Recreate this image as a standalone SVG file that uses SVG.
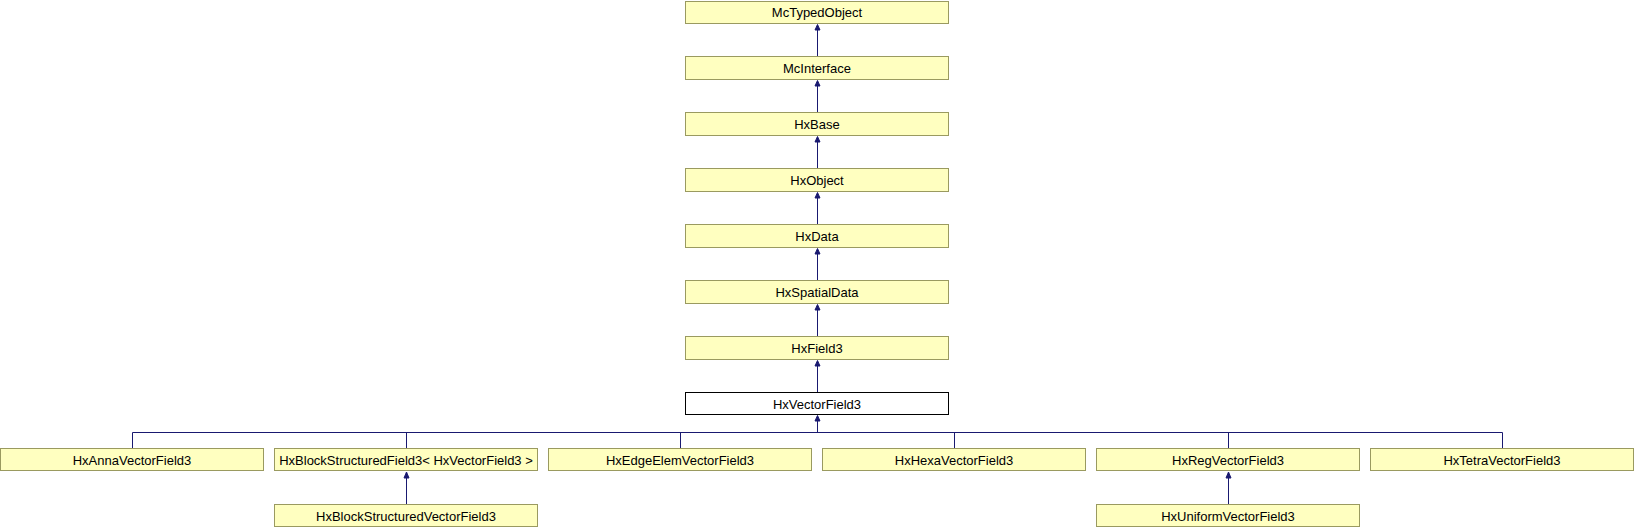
<svg xmlns="http://www.w3.org/2000/svg" width="1634" height="528" viewBox="0 0 1634 528">
<style>
.n rect{fill:#ffffc0;stroke:#9a9a60;stroke-width:1}
.n.h rect{fill:#ffffff;stroke:#000000}
.n text{font-family:"Liberation Sans",Arial,sans-serif;font-size:13px;fill:#000;text-anchor:middle}
.e line{stroke:#191970;stroke-width:1}
.e polygon{fill:#191970;stroke:#191970;stroke-width:1}
</style>
<rect width="1634" height="528" fill="#ffffff"/>
<g id="McTypedObject" class="n"><rect x="685.5" y="1.5" width="263" height="22"/><text x="817" y="17">McTypedObject</text></g>
<g id="McInterface" class="n"><rect x="685.5" y="56.5" width="263" height="23"/><text x="817" y="73">McInterface</text></g>
<g id="HxBase" class="n"><rect x="685.5" y="112.5" width="263" height="23"/><text x="817" y="129">HxBase</text></g>
<g id="HxObject" class="n"><rect x="685.5" y="168.5" width="263" height="23"/><text x="817" y="185">HxObject</text></g>
<g id="HxData" class="n"><rect x="685.5" y="224.5" width="263" height="23"/><text x="817" y="241">HxData</text></g>
<g id="HxSpatialData" class="n"><rect x="685.5" y="280.5" width="263" height="23"/><text x="817" y="297">HxSpatialData</text></g>
<g id="HxField3" class="n"><rect x="685.5" y="336.5" width="263" height="23"/><text x="817" y="353">HxField3</text></g>
<g id="HxVectorField3" class="n h"><rect x="685.5" y="392.5" width="263" height="22"/><text x="817" y="409">HxVectorField3</text></g>
<g id="HxAnnaVectorField3" class="n"><rect x="0.5" y="448.5" width="263" height="22"/><text x="132" y="465">HxAnnaVectorField3</text></g>
<g id="HxBlockStructuredField3" class="n"><rect x="274.5" y="448.5" width="263" height="22"/><text x="406" y="465">HxBlockStructuredField3&lt; HxVectorField3 &gt;</text></g>
<g id="HxEdgeElemVectorField3" class="n"><rect x="548.5" y="448.5" width="263" height="22"/><text x="680" y="465">HxEdgeElemVectorField3</text></g>
<g id="HxHexaVectorField3" class="n"><rect x="822.5" y="448.5" width="263" height="22"/><text x="954" y="465">HxHexaVectorField3</text></g>
<g id="HxRegVectorField3" class="n"><rect x="1096.5" y="448.5" width="263" height="22"/><text x="1228" y="465">HxRegVectorField3</text></g>
<g id="HxTetraVectorField3" class="n"><rect x="1370.5" y="448.5" width="263" height="22"/><text x="1502" y="465">HxTetraVectorField3</text></g>
<g id="HxBlockStructuredVectorField3" class="n"><rect x="274.5" y="504.5" width="263" height="22"/><text x="406" y="521">HxBlockStructuredVectorField3</text></g>
<g id="HxUniformVectorField3" class="n"><rect x="1096.5" y="504.5" width="263" height="22"/><text x="1228" y="521">HxUniformVectorField3</text></g>
<g id="connectors" class="e">
<line x1="817.5" y1="56" x2="817.5" y2="29"/><polygon points="817.5,24.5 815,30 820,30"/>
<line x1="817.5" y1="112" x2="817.5" y2="85"/><polygon points="817.5,80.5 815,86 820,86"/>
<line x1="817.5" y1="168" x2="817.5" y2="141"/><polygon points="817.5,136.5 815,142 820,142"/>
<line x1="817.5" y1="224" x2="817.5" y2="197"/><polygon points="817.5,192.5 815,198 820,198"/>
<line x1="817.5" y1="280" x2="817.5" y2="253"/><polygon points="817.5,248.5 815,254 820,254"/>
<line x1="817.5" y1="336" x2="817.5" y2="309"/><polygon points="817.5,304.5 815,310 820,310"/>
<line x1="817.5" y1="392" x2="817.5" y2="365"/><polygon points="817.5,360.5 815,366 820,366"/>
<line x1="817.5" y1="432.5" x2="817.5" y2="420"/><polygon points="817.5,415.5 815,421 820,421"/>
<line x1="132.5" y1="432.5" x2="1502.5" y2="432.5"/>
<line x1="132.5" y1="432.5" x2="132.5" y2="448"/>
<line x1="406.5" y1="432.5" x2="406.5" y2="448"/>
<line x1="680.5" y1="432.5" x2="680.5" y2="448"/>
<line x1="954.5" y1="432.5" x2="954.5" y2="448"/>
<line x1="1228.5" y1="432.5" x2="1228.5" y2="448"/>
<line x1="1502.5" y1="432.5" x2="1502.5" y2="448"/>
<line x1="406.5" y1="504" x2="406.5" y2="477"/><polygon points="406.5,472 404,478 409,478"/>
<line x1="1228.5" y1="504" x2="1228.5" y2="477"/><polygon points="1228.5,472 1226,478 1231,478"/>
</g>
</svg>
